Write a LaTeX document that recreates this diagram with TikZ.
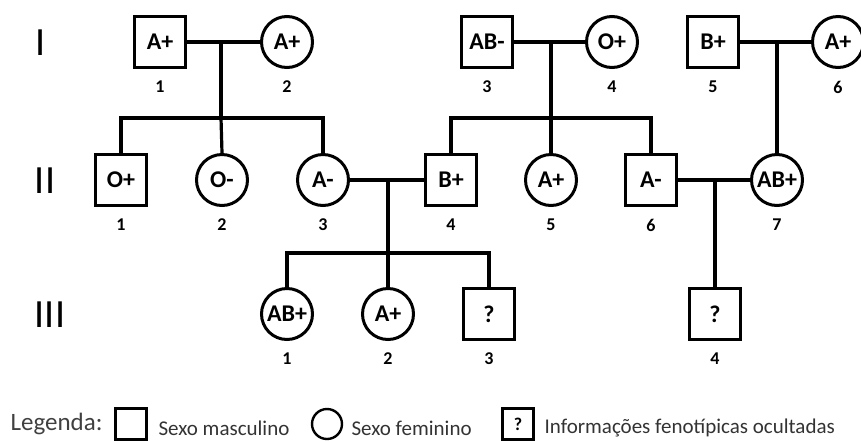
\documentclass[tikz,border=0pt]{standalone}
\usepackage{fontspec}
\setmainfont{Carlito}
\begin{document}
\begin{tikzpicture}[x=1pt,y=-1pt,
  line width=3.2pt,
  male/.style={draw,rectangle,minimum size=51pt,inner sep=0pt,line width=3pt,font=\bfseries\fontsize{24}{24}\selectfont},
  female/.style={draw,circle,minimum size=51pt,inner sep=0pt,line width=3pt,font=\bfseries\fontsize{24}{24}\selectfont},
  num/.style={font=\bfseries\fontsize{18}{18}\selectfont,inner sep=0pt},
  gen/.style={font=\fontsize{40}{40}\selectfont,inner sep=0pt},
  legtxt/.style={font=\fontsize{21}{21}\selectfont,text=black!80,anchor=west,inner sep=0pt},
  lmale/.style={draw,rectangle,minimum size=31pt,inner sep=0pt,line width=3pt,font=\bfseries\fontsize{18}{18}\selectfont},
  lfemale/.style={draw,circle,minimum size=30pt,inner sep=0pt,line width=2.4pt}
]
\useasboundingbox (0,0) rectangle (861,440);
% generation labels
\node[gen] (g1) at (41,43) {I};
\node[gen] (g2) at (45,181) {II};
\node[gen] (g3) at (50,315) {III};
% generation I
\node[male]   (I1) at (160,42) {A+};
\node[female] (I2) at (287,42) {A+};
\node[male]   (I3) at (487,42) {AB-};
\node[female] (I4) at (612,42) {O+};
\node[male]   (I5) at (713,42) {B+};
\node[female] (I6) at (838,42) {A+};
\foreach \n/\x/\t in {l1/160/1,l2/287/2,l3/487/3,l4/612/4,l5/713/5,l6/838/6}
  \node[num] (I\n) at (\x,87) {\t};
% generation II
\node[male]   (II1) at (121,180) {O+};
\node[female] (II2) at (222,180) {O-};
\node[female] (II3) at (323,180) {A-};
\node[male]   (II4) at (451,180) {B+};
\node[female] (II5) at (551,180) {A+};
\node[male]   (II6) at (651,180) {A-};
\node[female] (II7) at (777,180) {AB+};
\foreach \n/\x/\t in {l1/121/1,l2/222/2,l3/323/3,l4/451/4,l5/551/5,l6/651/6,l7/777/7}
  \node[num] (II\n) at (\x,225) {\t};
% generation III
\node[female] (III1) at (287,314) {AB+};
\node[female] (III2) at (388,314) {A+};
\node[male]   (III3) at (489,314) {?};
\node[male]   (III4) at (715,314) {?};
\foreach \n/\x/\t in {l1/287/1,l2/388/2,l3/489/3,l4/715/4}
  \node[num] (III\n) at (\x,359) {\t};
% couple I1-I2
\draw (I1) -- (I2);
\coordinate (m12) at (221,42);
\coordinate (s12) at (221,118);
\draw (m12) -- (s12);
\draw (II1.north) |- (s12) -| (II3.north);
\draw (s12) -- (II2.north);
% couple I3-I4
\draw (I3) -- (I4);
\coordinate (m34) at (551,42);
\coordinate (s34) at (551,118);
\draw (m34) -- (s34);
\draw (II4.north) |- (s34) -| (II6.north);
\draw (s34) -- (II5.north);
% couple I5-I6
\draw (I5) -- (I6);
\coordinate (m56) at (777,42);
\draw (m56) -- (II7.north);
% couple II3-II4
\draw (II3) -- (II4);
\coordinate (m34b) at (388,180);
\coordinate (s34b) at (388,253);
\draw (m34b) -- (s34b);
\draw (III1.north) |- (s34b) -| (III3.north);
\draw (s34b) -- (III2.north);
% couple II6-II7
\draw (II6) -- (II7);
\coordinate (m67) at (715,180);
\draw (m67) -- (III4.north);
% legend
\node[font=\fontsize{25}{25}\selectfont,text=black!75,anchor=west,inner sep=0pt] (leg) at (9,424) {Legenda:};
\node[lmale] (lm) at (131,424) {};
\node[legtxt] (lmt) at (157,428) {Sexo masculino};
\node[lfemale] (lf) at (327,424) {};
\node[legtxt] (lft) at (350,428) {Sexo feminino};
\node[lmale] (lq) at (518,424) {?};
\node[legtxt] (lqt) at (543,428) {Informações fenotípicas ocultadas};
\end{tikzpicture}
\end{document}
